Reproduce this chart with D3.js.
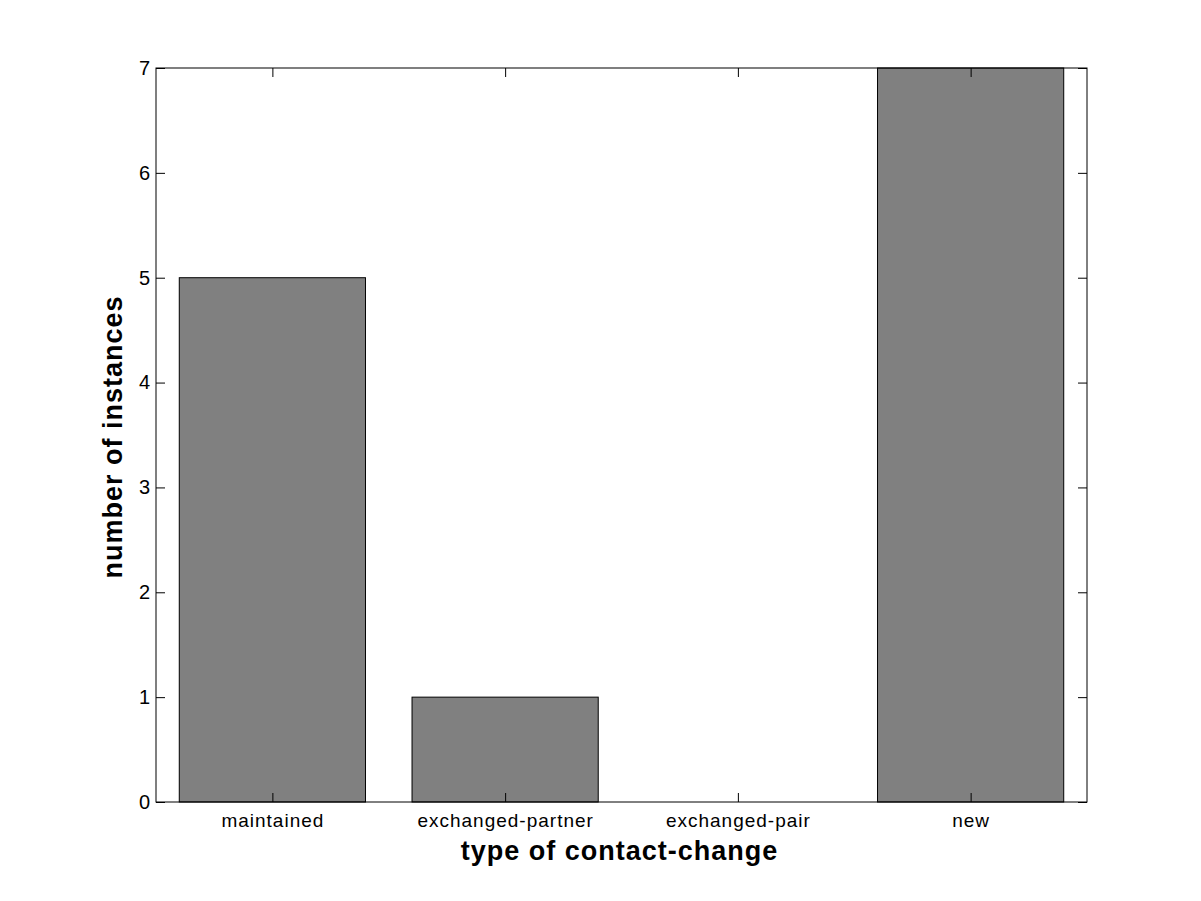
<!DOCTYPE html>
<html><head><meta charset="utf-8">
<script src="https://cdn.jsdelivr.net/npm/d3@7"></script>
<style>body{margin:0;background:#fff}svg{display:block}text{font-family:"Liberation Sans",Arial,sans-serif}</style>
</head><body>
<script>
const categories = ["maintained", "exchanged-partner", "exchanged-pair", "new"];
const values = [5, 1, 0, 7];
const yTicks = [0, 1, 2, 3, 4, 5, 6, 7];
const xTitle = "type of contact-change";
const yTitle = "number of instances";

const W = 1201, H = 901;
const m = {left: 156, right: 1087, top: 68, bottom: 802};
const svg = d3.select("body").append("svg").attr("width", W).attr("height", H);

const x = d3.scaleLinear().domain([0.5, 4.5]).range([m.left, m.right]);
const y = d3.scaleLinear().domain([0, 7]).range([m.bottom, m.top]);
const bw = 0.8;

svg.append("rect").attr("x", m.left).attr("y", m.top).attr("width", m.right - m.left).attr("height", m.bottom - m.top).attr("fill", "#fff");

svg.selectAll("rect.bar").data(values).enter().append("rect").attr("class", "bar")
  .attr("x", (d, i) => x(i + 1 - bw / 2))
  .attr("width", (d, i) => x(i + 1 + bw / 2) - x(i + 1 - bw / 2))
  .attr("y", d => y(d))
  .attr("height", d => y(0) - y(d))
  .attr("fill", "#808080").attr("stroke", "#000").attr("stroke-width", 1);

const tl = 9;
const xAxis = d3.axisBottom(x).tickValues([1, 2, 3, 4]).tickFormat((d) => categories[d - 1]).tickSizeInner(-tl).tickSizeOuter(0).tickPadding(12);
const gx = svg.append("g").attr("transform", `translate(0,${m.bottom})`).call(xAxis);
const gxt = svg.append("g").attr("transform", `translate(0,${m.top})`).call(d3.axisTop(x).tickValues([1, 2, 3, 4]).tickFormat("").tickSizeInner(-tl).tickSizeOuter(0));
const yAxis = d3.axisLeft(y).tickValues(yTicks).tickFormat(d3.format("d")).tickSizeInner(-tl).tickSizeOuter(0).tickPadding(6);
const gy = svg.append("g").attr("transform", `translate(${m.left},0)`).call(yAxis);
const gyr = svg.append("g").attr("transform", `translate(${m.right},0)`).call(d3.axisRight(y).tickValues(yTicks).tickFormat("").tickSizeInner(-tl).tickSizeOuter(0));

[gx, gxt, gy, gyr].forEach(g => {
  g.select(".domain").remove();
  g.selectAll("line").attr("stroke", "#000");
  g.selectAll("text").attr("fill", "#000").style("font-size", "19px").style("font-family", '"Liberation Sans",Arial,sans-serif');
});
gx.selectAll("text").style("letter-spacing", "1px");
gy.selectAll("text").style("font-size", "20px");

svg.append("rect").attr("x", m.left).attr("y", m.top).attr("width", m.right - m.left).attr("height", m.bottom - m.top)
  .attr("fill", "none").attr("stroke", "#000").attr("stroke-width", 1);

svg.append("text").attr("x", (m.left + m.right) / 2 - 2).attr("y", 860).attr("text-anchor", "middle")
  .style("font-size", "27px").style("font-weight", "bold").style("letter-spacing", "1px").text(xTitle);
svg.append("text").attr("transform", `translate(122,${(m.top + m.bottom) / 2 + 2}) rotate(-90)`).attr("text-anchor", "middle")
  .style("font-size", "27px").style("font-weight", "bold").style("letter-spacing", "1px").text(yTitle);
</script>
</body></html>
